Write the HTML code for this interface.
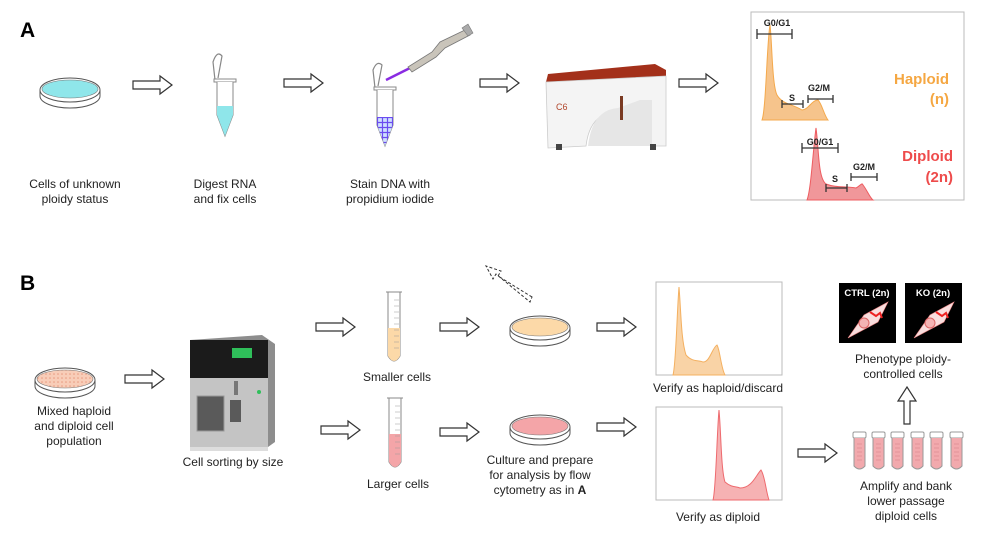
<!DOCTYPE html>
<html><head><meta charset="utf-8"><style>
html,body{margin:0;padding:0;background:#fff;}
svg{display:block;font-family:"Liberation Sans",Arial,sans-serif;}
.t{font-size:12px;fill:#222;text-anchor:middle;}
.b{font-weight:bold;}
</style></head><body>
<svg width="999" height="536" viewBox="0 0 999 536" xmlns="http://www.w3.org/2000/svg">
<defs>
<path id="ar" d="M0,-4 H27 V-9 L39,0 L27,9 V4 H0 Z" fill="#fff" stroke="#333" stroke-width="1.2"/>
<pattern id="grid" width="5" height="5" patternUnits="userSpaceOnUse"><rect width="5" height="5" fill="#cfe0ff"/><path d="M0,2.5H5M2.5,0V5" stroke="#6b4cf0" stroke-width="1.2"/></pattern>
<pattern id="dots" width="4" height="4" patternUnits="userSpaceOnUse"><rect width="4" height="4" fill="#f8cdb8"/><circle cx="2" cy="2" r="0.8" fill="#e89a80"/></pattern>
<g id="tb">
<rect x="0" y="0" width="13" height="6" rx="1.5" fill="#fff" stroke="#999"/>
<path d="M1,6 V34 Q6.5,40 12,34 V6" fill="#f2a9ad" stroke="#999"/>
<path d="M4,12h5M4,16h5M4,20h5M4,24h5M4,28h5" stroke="#d07f85" stroke-width="0.6"/>
</g>
</defs>

<!-- Panel A -->
<text x="20" y="37" font-size="21" class="b" fill="#000">A</text>
<ellipse cx="70" cy="90" rx="30" ry="12" fill="#fff" stroke="#555"/>
<ellipse cx="70" cy="89" rx="28" ry="9" fill="#8fe6ea" stroke="#777" stroke-width="0.6"/>
<path d="M40,90 V96 A30,12 0 0 0 100,96 V90" fill="none" stroke="#555"/>
<text class="t" x="75" y="188">Cells of unknown</text>
<text class="t" x="75" y="203">ploidy status</text>
<use href="#ar" x="133" y="85"/>

<path d="M215,80 L213,62 Q217,50 222,56 L218,78" fill="none" stroke="#888" stroke-width="1.2"/>
<rect x="214" y="79" width="22" height="3" fill="#fff" stroke="#888"/>
<path d="M217,82 V115 L225,136 L233,115 V82" fill="#fff" stroke="#888"/>
<path d="M217,106 V115 L225,136 L233,115 V106 Z" fill="#8fe6ea"/>
<text class="t" x="225" y="188">Digest RNA</text>
<text class="t" x="225" y="203">and fix cells</text>
<use href="#ar" x="284" y="83"/>

<path d="M375,88 L373,70 Q377,60 382,65 L378,86" fill="none" stroke="#888" stroke-width="1.2"/>
<rect x="374" y="87" width="22" height="3" fill="#fff" stroke="#888"/>
<path d="M377,90 V125 L385,146 L393,125 V90" fill="#fff" stroke="#888"/>
<path d="M377,117 V125 L385,146 L393,125 V117 Z" fill="url(#grid)"/>
<path d="M386,80 L410,68" stroke="#8a2be2" stroke-width="2.5"/>
<path d="M408,67 L432,52 L440,42 L465,30 L470,35 L445,48 L436,57 L412,72 Z" fill="#c9c4ba" stroke="#777" stroke-width="0.8"/>
<path d="M462,28 L468,24 L473,33 L468,36 Z" fill="#aaa" stroke="#777" stroke-width="0.6"/>
<text class="t" x="390" y="188">Stain DNA with</text>
<text class="t" x="390" y="203">propidium iodide</text>
<use href="#ar" x="480" y="83"/>

<!-- flow cytometer -->
<path d="M546,82 L548,74 L655,64 L666,70 L666,76 Z" fill="#a3301a"/>
<path d="M546,82 L666,76 L666,146 L652,146 Q648,112 618,112 Q590,112 586,146 L548,148 Z" fill="#f4f4f4" stroke="#ccc" stroke-width="0.8"/>
<path d="M588,146 Q592,110 618,108 L640,100 L652,100 L652,146 Z" fill="#e6e6e6"/>
<rect x="620" y="96" width="3" height="24" fill="#7a3a22"/>
<text x="556" y="110" font-size="9" fill="#b0452a">C6</text>
<rect x="556" y="144" width="6" height="6" fill="#444"/>
<rect x="650" y="144" width="6" height="6" fill="#444"/>
<use href="#ar" x="679" y="83"/>

<rect x="751" y="12" width="213" height="188" fill="#fff" stroke="#bbb"/>
<path d="M762,120 C766,110 767,40 770,25 C772,40 772,85 777,95 C782,104 792,104 802,110 C808,110 812,100 818,100 C822,104 824,115 828,120 Z" fill="#f6c48c" stroke="#f4a94c" stroke-width="1"/>
<path d="M807,200 C811,190 813,150 816,128 C819,150 818,178 826,184 C836,188 846,186 856,188 C860,186 862,182 863,185 C867,190 870,198 873,200 Z" fill="#f0979a" stroke="#ee5c60" stroke-width="1"/>
<g stroke="#333" stroke-width="1.3" fill="none">
<path d="M757,34H792M757,29V39M792,29V39"/>
<path d="M782,104H803M782,100V108M803,100V108"/>
<path d="M808,99H833M808,95V103M833,95V103"/>
<path d="M802,148H838M802,143V153M838,143V153"/>
<path d="M826,188H847M826,184V192M847,184V192"/>
<path d="M851,177H877M851,173V181M877,173V181"/>
</g>
<g font-size="9" class="b" fill="#222" text-anchor="middle">
<text x="777" y="26">G0/G1</text>
<text x="792" y="101">S</text>
<text x="819" y="91">G2/M</text>
<text x="820" y="145">G0/G1</text>
<text x="835" y="182">S</text>
<text x="864" y="170">G2/M</text>
</g>
<g font-size="15" class="b" text-anchor="end">
<text x="949" y="84" fill="#f5a742">Haploid</text>
<text x="949" y="104" fill="#f5a742">(n)</text>
<text x="953" y="161" fill="#ee4b4b">Diploid</text>
<text x="953" y="182" fill="#ee4b4b">(2n)</text>
</g>

<!-- Panel B -->
<text x="20" y="290" font-size="21" class="b" fill="#000">B</text>
<ellipse cx="65" cy="380" rx="30" ry="12" fill="#fff" stroke="#555"/>
<ellipse cx="65" cy="379" rx="28" ry="9" fill="url(#dots)" stroke="#777" stroke-width="0.6"/>
<path d="M35,380 V386 A30,12 0 0 0 95,386 V380" fill="none" stroke="#555"/>
<text class="t" x="74" y="415">Mixed haploid</text>
<text class="t" x="74" y="430">and diploid cell</text>
<text class="t" x="74" y="445">population</text>
<use href="#ar" x="125" y="379"/>

<!-- sorter -->
<path d="M190,340 L262,335 L275,344 L275,442 L268,447 Z" fill="#8d8d8d"/>
<rect x="190" y="340" width="78" height="38" fill="#1b1b1b"/>
<rect x="232" y="348" width="20" height="10" fill="#2fbf5a"/>
<rect x="190" y="378" width="78" height="69" fill="#c4c4c4"/>
<rect x="197" y="396" width="27" height="35" fill="#5a5a5a" stroke="#999"/>
<rect x="230" y="400" width="11" height="22" fill="#5a5a5a"/>
<rect x="234" y="381" width="4" height="14" fill="#777"/>
<circle cx="259" cy="392" r="2" fill="#2fbf5a"/>
<rect x="190" y="447" width="78" height="4" fill="#ddd"/>
<text class="t" x="233" y="466">Cell sorting by size</text>

<use href="#ar" x="316" y="327"/>
<use href="#ar" x="321" y="430"/>
<path d="M386,292 H402 M388,292 V356 Q394,366 400,356 V292" fill="#fff" stroke="#888"/>
<path d="M388,328 V356 Q394,366 400,356 V328 Z" fill="#fcd9a8"/>
<path d="M394,300h5M394,306h5M394,312h5M394,318h5M394,324h5M394,330h5M394,336h5M394,342h5M394,348h5" stroke="#999" stroke-width="0.6"/>
<text class="t" x="397" y="381">Smaller cells</text>
<path d="M387,398 H403 M389,398 V462 Q395,472 401,462 V398" fill="#fff" stroke="#888"/>
<path d="M389,434 V462 Q395,472 401,462 V434 Z" fill="#f4a5a8"/>
<path d="M395,406h5M395,412h5M395,418h5M395,424h5M395,430h5M395,436h5M395,442h5M395,448h5M395,454h5" stroke="#999" stroke-width="0.6"/>
<text class="t" x="398" y="488">Larger cells</text>

<use href="#ar" x="440" y="327"/>
<use href="#ar" x="440" y="432"/>
<ellipse cx="540" cy="328" rx="30" ry="12" fill="#fff" stroke="#555"/>
<ellipse cx="540" cy="327" rx="28" ry="9" fill="#fcd9a8" stroke="#777" stroke-width="0.6"/>
<path d="M510,328 V334 A30,12 0 0 0 570,334 V328" fill="none" stroke="#555"/>
<path d="M532,297 L498,276 L501,271 L486,266 L493,279 L496,274 L530,302 Z" fill="none" stroke="#333" stroke-dasharray="3,2"/>
<ellipse cx="540" cy="427" rx="30" ry="12" fill="#fff" stroke="#555"/>
<ellipse cx="540" cy="426" rx="28" ry="9" fill="#f4a5a8" stroke="#777" stroke-width="0.6"/>
<path d="M510,427 V433 A30,12 0 0 0 570,433 V427" fill="none" stroke="#555"/>
<text class="t" x="540" y="464">Culture and prepare</text>
<text class="t" x="540" y="479">for analysis by flow</text>
<text class="t" x="540" y="494">cytometry as in <tspan class="b">A</tspan></text>

<use href="#ar" x="597" y="327"/>
<use href="#ar" x="597" y="427"/>
<rect x="656" y="282" width="126" height="93" fill="#fff" stroke="#bbb"/>
<path d="M673,375 C676,365 677,310 679,287 C681,310 681,340 686,355 C692,362 698,360 703,362 C710,362 712,348 717,345 C720,350 721,368 725,375 Z" fill="#f9d3a6" stroke="#f4b060" stroke-width="1"/>
<text class="t" x="718" y="392">Verify as haploid/discard</text>
<rect x="656" y="407" width="126" height="93" fill="#fff" stroke="#bbb"/>
<path d="M713,500 C716,490 717,430 719,410 C721,430 721,470 725,482 C732,488 736,486 740,488 C752,488 756,475 761,470 C765,476 766,492 769,500 Z" fill="#f6b2b3" stroke="#ee6a6e" stroke-width="1"/>
<text class="t" x="718" y="521">Verify as diploid</text>

<use href="#ar" x="798" y="453"/>
<use href="#tb" x="853" y="432"/>
<use href="#tb" x="872" y="432"/>
<use href="#tb" x="891" y="432"/>
<use href="#tb" x="911" y="432"/>
<use href="#tb" x="930" y="432"/>
<use href="#tb" x="950" y="432"/>
<text class="t" x="906" y="490">Amplify and bank</text>
<text class="t" x="906" y="505">lower passage</text>
<text class="t" x="906" y="520">diploid cells</text>
<path d="M904,424 V401 H898 L907,387 L916,401 H910 V424 Z" fill="#fff" stroke="#333" stroke-width="1.2"/>
<text class="t" x="903" y="363">Phenotype ploidy-</text>
<text class="t" x="903" y="378">controlled cells</text>

<rect x="839" y="283" width="57" height="60" fill="#000"/>
<rect x="905" y="283" width="57" height="60" fill="#000"/>
<g font-size="9.5" class="b" fill="#fff" text-anchor="middle">
<text x="867" y="296">CTRL (2n)</text>
<text x="933" y="296">KO (2n)</text>
</g>
<path d="M848,338 L864,315 L888,302 L878,322 Z" fill="#f9dede" stroke="#e88" stroke-width="0.6"/>
<circle cx="864" cy="323" r="5" fill="#f4b4b4" stroke="#d66"/>
<path d="M870,312 l6,4 l4,-3 l2,5" stroke="#e22" stroke-width="2" fill="none"/>
<path d="M914,338 L930,315 L954,302 L944,322 Z" fill="#f9dede" stroke="#e88" stroke-width="0.6"/>
<circle cx="930" cy="323" r="5" fill="#f4b4b4" stroke="#d66"/>
<path d="M936,312 l6,4 l4,-3 l2,5" stroke="#e22" stroke-width="2" fill="none"/>
</svg>
</body></html>
